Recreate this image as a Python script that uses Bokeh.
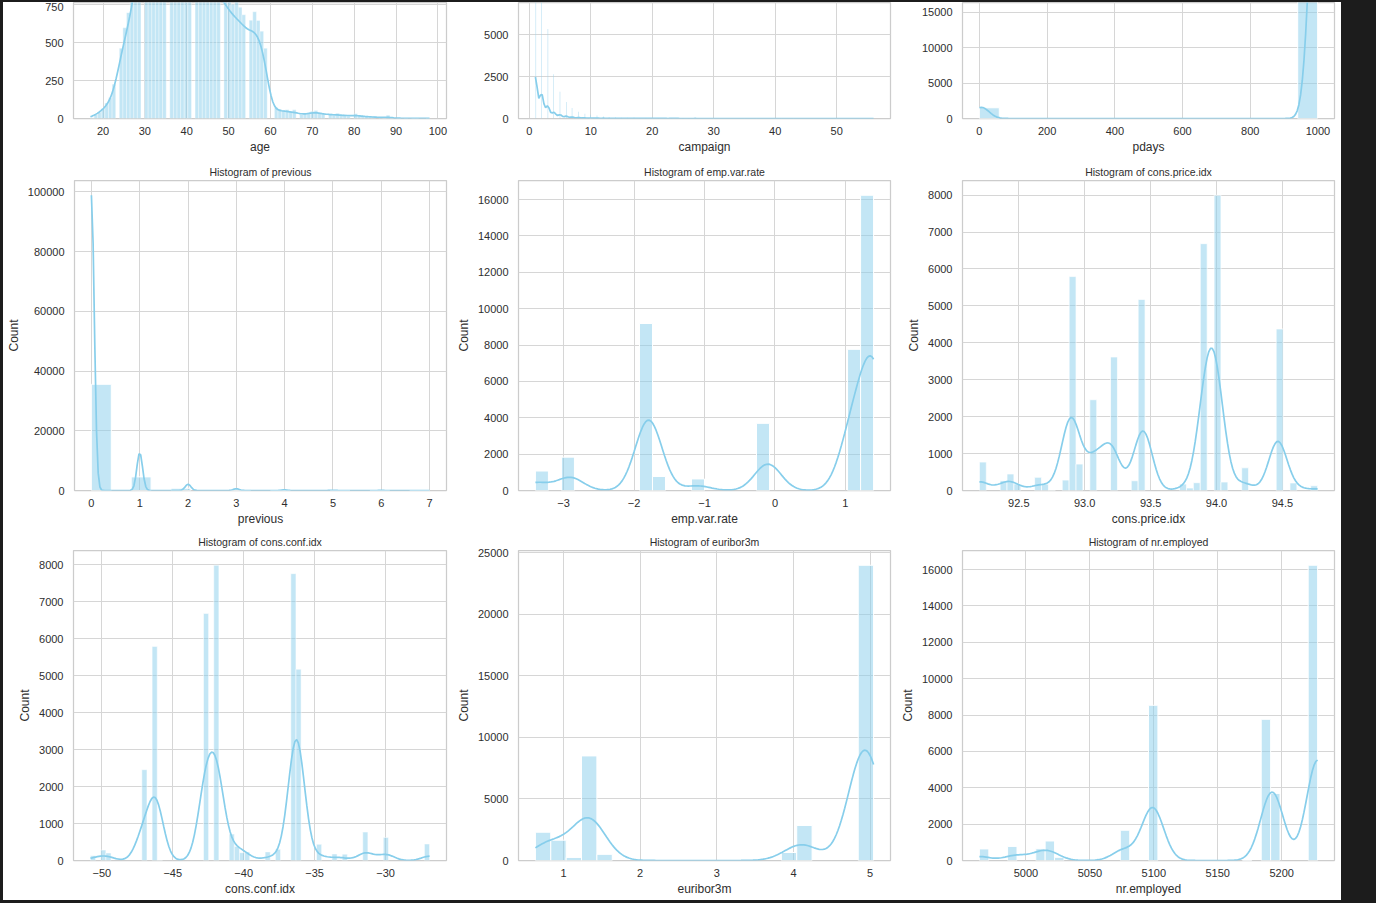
import numpy as np
from bokeh.plotting import figure
from bokeh.layouts import row, column
from bokeh.models import FixedTicker, Spacer, CustomJSTickFormatter
from bokeh.embed import file_html
from bokeh.resources import INLINE

# ---------------- data (value -> count) ----------------
age_values = [17, 18, 19, 20, 21, 22, 23, 24, 25, 26, 27, 28, 29, 30, 31, 32, 33, 34, 35, 36,
              37, 38, 39, 40, 41, 42, 43, 44, 45, 46, 47, 48, 49, 50, 51, 52, 53, 54, 55, 56,
              57, 58, 59, 61, 62, 63, 64, 65, 66, 67, 68, 69, 70, 71, 72, 73, 74, 75, 76, 77,
              78, 79, 80, 81, 82, 83, 84, 85, 86, 87, 88, 89, 91, 92, 94, 95, 98]
age_counts = [5, 28, 42, 65, 102, 137, 226, 463, 598, 698, 851, 1001, 1453, 1714, 1947, 1846, 1833, 1745, 1759, 1780,
              1475, 1407, 1432, 1161, 1278, 1142, 1055, 1011, 1103, 1030, 928, 979, 839, 875, 754, 779, 733, 684, 648, 704,
              646, 576, 463, 73, 62, 55, 57, 44, 57, 26, 33, 34, 47, 53, 34, 34, 32, 24, 34, 20,
              27, 14, 31, 20, 17, 17, 7, 15, 8, 1, 22, 2, 2, 4, 1, 1, 2]

campaign_values = [1, 2, 3, 4, 5, 6, 7, 8, 9, 10, 11, 12, 13, 14, 15, 16, 17, 18, 19, 20,
                   21, 22, 23, 24, 25, 26, 27, 28, 29, 30, 31, 32, 33, 34, 35, 37, 39, 40, 41, 42, 43, 56]
campaign_counts = [17642, 10570, 5341, 2651, 1599, 979, 629, 400, 283, 225, 177, 125, 92, 69, 51, 51, 58, 33, 26, 30,
                   24, 17, 16, 15, 8, 8, 11, 8, 10, 7, 7, 4, 4, 3, 5, 1, 1, 2, 1, 2, 2, 1]

pdays_values = [0, 1, 2, 3, 4, 5, 6, 7, 8, 9, 10, 11, 12, 13, 14, 15, 16, 17, 18, 19,
                20, 21, 22, 25, 26, 27, 999]
pdays_counts = [15, 26, 61, 439, 118, 46, 412, 60, 18, 64, 52, 28, 58, 36, 20, 24, 11, 8, 7, 3,
                1, 2, 3, 1, 1, 1, 39673]

previous_values = [0, 1, 2, 3, 4, 5, 6, 7]
previous_counts = [35563, 4561, 754, 216, 70, 18, 5, 1]

emp_values = [-3.4, -3.0, -2.9, -1.8, -1.7, -1.1, -0.2, -0.1, 1.1, 1.4]
emp_counts = [1071, 172, 1663, 9184, 773, 635, 10, 3683, 7763, 16234]

price_values = [92.201, 92.379, 92.431, 92.469, 92.649, 92.713, 92.756, 92.843, 92.893, 92.963,
                93.075, 93.2, 93.369, 93.444, 93.749, 93.798, 93.876, 93.918, 93.994, 94.027,
                94.055, 94.199, 94.215, 94.465, 94.601, 94.767]
price_counts = [770, 267, 447, 178, 357, 172, 10, 282, 5794, 715,
                2458, 3616, 264, 5175, 174, 67, 212, 6685, 7763, 233,
                229, 303, 311, 4374, 204, 128]

conf_values = [-50.8, -50.0, -49.5, -47.1, -46.2, -45.9, -42.7, -42.0, -41.8, -40.8,
               -40.4, -40.3, -40.0, -39.8, -38.3, -37.5, -36.4, -36.1, -34.8, -34.6,
               -33.6, -33.0, -31.4, -30.1, -29.8, -26.9]
conf_counts = [128, 282, 204, 2458, 5794, 10, 6685, 3616, 4374, 715,
               67, 311, 212, 229, 233, 303, 7763, 5175, 264, 174,
               178, 172, 770, 357, 267, 447]

euribor_values = [0.634, 0.72, 0.79, 0.88, 0.96, 1.05, 1.25, 1.29, 1.33, 1.36, 1.405, 1.48, 1.56,
                  3.9, 4.0, 4.076, 4.12, 4.153, 4.191,
                  4.857, 4.864, 4.959, 4.961, 4.962, 4.963, 4.965, 4.968, 5.045]
euribor_counts = [8, 1242, 1050, 800, 850, 250, 1800, 1600, 1900, 1700, 1500, 300, 200,
                  200, 450, 822, 800, 700, 528,
                  6000, 2000, 2500, 1700, 5100, 2500, 2200, 1000, 1000]

employed_values = [4963.6, 4991.6, 5008.7, 5017.5, 5023.5, 5076.2, 5099.1, 5176.3, 5191.0, 5195.8, 5228.1]
employed_counts = [635, 773, 650, 1071, 172, 1663, 8534, 10, 7763, 3683, 16234]

# tick positions of each panel
age_xticks = [20, 30, 40, 50, 60, 70, 80, 90, 100]
age_yticks = [0, 250, 500, 750]
campaign_xticks = [0, 10, 20, 30, 40, 50]
campaign_yticks = [0, 2500, 5000]
pdays_xticks = [0, 200, 400, 600, 800, 1000]
pdays_yticks = [0, 5000, 10000, 15000]
previous_xticks = [0, 1, 2, 3, 4, 5, 6, 7]
previous_yticks = [0, 20000, 40000, 60000, 80000, 100000]
emp_xticks = [-3, -2, -1, 0, 1]
emp_yticks = [0, 2000, 4000, 6000, 8000, 10000, 12000, 14000, 16000]
price_xticks = [92.5, 93.0, 93.5, 94.0, 94.5]
price_yticks = [0, 1000, 2000, 3000, 4000, 5000, 6000, 7000, 8000]
conf_xticks = [-50, -45, -40, -35, -30]
conf_yticks = [0, 1000, 2000, 3000, 4000, 5000, 6000, 7000, 8000]
euribor_xticks = [1, 2, 3, 4, 5]
euribor_yticks = [0, 5000, 10000, 15000, 20000, 25000]
employed_xticks = [5000, 5050, 5100, 5150, 5200]
employed_yticks = [0, 2000, 4000, 6000, 8000, 10000, 12000, 14000, 16000]

# ---------------- styling ----------------
DARK = "#1c1c1c"
FONT = "Liberation Sans"
BAR = "#87ceeb"
TXT = "#2e2e2e"
GRID = "#d6d6d6"
SPINE = "#cccccc"
FULL_FRAME_H = 310


def auto_edges(data):
    # numpy's classic "auto" rule: min(Freedman-Diaconis, Sturges), Sturges if IQR is 0
    n = data.size
    lo, hi = float(data.min()), float(data.max())
    ptp = hi - lo
    q75, q25 = np.percentile(data, [75, 25])
    fd = 2.0 * (q75 - q25) * n ** (-1.0 / 3.0)
    st = ptp / (np.log2(n) + 1.0)
    w = min(fd, st) if fd > 0 else st
    nb = int(np.ceil(ptp / w))
    return np.linspace(lo, hi, nb + 1)


def hist_and_kde(values, counts):
    v = np.asarray(values, dtype=float)
    c = np.asarray(counts, dtype=float)
    data = np.repeat(v, np.asarray(counts, dtype=int))
    edges = auto_edges(data)
    hist, _ = np.histogram(v, bins=edges, weights=c)
    binw = float(np.diff(edges).mean())
    n = c.sum()
    mean = (v * c).sum() / n
    sd = np.sqrt((c * (v - mean) ** 2).sum() / (n - 1))
    bw = sd * n ** (-0.2)
    gx = np.linspace(v.min(), v.max(), 200)
    z = (gx[:, None] - v[None, :]) / bw
    dens = (np.exp(-0.5 * z * z) * c[None, :]).sum(axis=1) / (n * bw * np.sqrt(2 * np.pi))
    return edges, hist, gx, dens * n * binw


def panel(name, values, counts, xticks, yticks, xdec, width, bl, br, height, bt, bb,
          titled, ylabel, visible_frac=1.0):
    edges, hist, gx, gy = hist_and_kde(values, counts)
    lo = min(edges[0], gx[0])
    hi = max(edges[-1], gx[-1])
    pad = 0.05 * (hi - lo)
    ytop = 1.05 * max(hist.max(), gy.max())
    kw = dict(width=width, height=height, x_range=(lo - pad, hi + pad),
              y_range=(0, ytop * visible_frac), output_backend="svg",
              toolbar_location=None, min_border_left=bl, min_border_right=br,
              min_border_top=bt, min_border_bottom=bb)
    if titled:
        kw["title"] = f"Histogram of {name}"
    p = figure(**kw)
    p.background_fill_color = "white"
    p.border_fill_color = "white"
    p.outline_line_color = SPINE
    p.outline_line_width = 1.25

    frame_w = width - bl - br
    binw = edges[1] - edges[0]
    w_px = binw * frame_w / ((hi - lo) + 2 * pad)
    lw = min(0.1 * w_px, 1.0)
    keep = hist > 0
    p.quad(left=edges[:-1][keep], right=edges[1:][keep], bottom=0, top=hist[keep],
           fill_color=BAR, fill_alpha=0.5, line_color="white", line_width=lw)
    p.line(gx, gy, line_color=BAR, line_width=1.7)

    p.xaxis.ticker = FixedTicker(ticks=xticks)
    p.yaxis.ticker = FixedTicker(ticks=yticks)
    p.xaxis.formatter = CustomJSTickFormatter(
        code=f"var s = Math.abs(tick).toFixed({xdec}); return (tick < 0 ? '\\u2212' : '') + s;")
    p.yaxis.formatter = CustomJSTickFormatter(code="return tick.toFixed(0);")
    for ax in (p.xaxis[0], p.yaxis[0]):
        ax.axis_line_color = None
        ax.major_tick_line_color = None
        ax.minor_tick_line_color = None
        ax.major_tick_out = 0
        ax.major_tick_in = 0
        ax.minor_tick_out = 0
        ax.minor_tick_in = 0
        ax.major_label_text_font = FONT
        ax.major_label_text_font_size = "11px"
        ax.major_label_text_color = TXT
        ax.axis_label_text_font = FONT
        ax.axis_label_text_font_size = "12px"
        ax.axis_label_text_font_style = "normal"
        ax.axis_label_text_color = TXT
    p.xaxis.axis_label = name
    p.xaxis.major_label_standoff = 8
    p.xaxis.axis_label_standoff = 2
    p.yaxis.major_label_standoff = 10
    p.yaxis.axis_label_standoff = 4
    if ylabel:
        p.yaxis.axis_label = "Count"
    p.xgrid.grid_line_color = GRID
    p.ygrid.grid_line_color = GRID
    p.xgrid.grid_line_width = 1
    p.ygrid.grid_line_width = 1
    if titled:
        p.title.align = "center"
        p.title.text_font = FONT
        p.title.text_font_size = "10.5px"
        p.title.text_font_style = "normal"
        p.title.text_color = TXT
        p.title.standoff = 5
    return p


WIDTHS = [445, 444, 449]
BL = 70
BR = [2, 2, 7]

# row 1 (cut off by the top of the screenshot)
R1H, R1T, R1B = 158, 0, 42
frac1 = (R1H - R1T - R1B) / FULL_FRAME_H
p_age = panel("age", age_values, age_counts, age_xticks, age_yticks, 0,
              WIDTHS[0], BL, BR[0], R1H, R1T, R1B, False, False, frac1)
p_campaign = panel("campaign", campaign_values, campaign_counts, campaign_xticks, campaign_yticks, 0,
                   WIDTHS[1], BL, BR[1], R1H, R1T, R1B, False, False, frac1)
p_pdays = panel("pdays", pdays_values, pdays_counts, pdays_xticks, pdays_yticks, 0,
                WIDTHS[2], BL, BR[2], R1H, R1T, R1B, False, False, frac1)

RH, RT, RB = 370, 20, 40
p_prev = panel("previous", previous_values, previous_counts, previous_xticks, previous_yticks, 0,
               WIDTHS[0], BL, BR[0], RH, RT, RB, True, True)
p_emp = panel("emp.var.rate", emp_values, emp_counts, emp_xticks, emp_yticks, 0,
              WIDTHS[1], BL, BR[1], RH, RT, RB, True, True)
p_price = panel("cons.price.idx", price_values, price_counts, price_xticks, price_yticks, 1,
                WIDTHS[2], BL, BR[2], RH, RT, RB, True, True)
p_conf = panel("cons.conf.idx", conf_values, conf_counts, conf_xticks, conf_yticks, 0,
               WIDTHS[0], BL, BR[0], RH, RT, RB, True, True)
p_eur = panel("euribor3m", euribor_values, euribor_counts, euribor_xticks, euribor_yticks, 0,
              WIDTHS[1], BL, BR[1], RH, RT, RB, True, True)
p_emp2 = panel("nr.employed", employed_values, employed_counts, employed_xticks, employed_yticks, 0,
               WIDTHS[2], BL, BR[2], RH, RT, RB, True, True)

grid = column(row(p_age, p_campaign, p_pdays, styles={"background-color": "white"}),
              row(p_prev, p_emp, p_price, styles={"background-color": "white"}),
              row(p_conf, p_eur, p_emp2, styles={"background-color": "white"}),
              styles={"background-color": "white"})

root = column(Spacer(width=1376, height=2),
              row(Spacer(width=3, height=898), grid),
              width=1376, height=903,
              styles={"background-color": DARK})

open("out.html", "w").write(file_html(root, INLINE))
